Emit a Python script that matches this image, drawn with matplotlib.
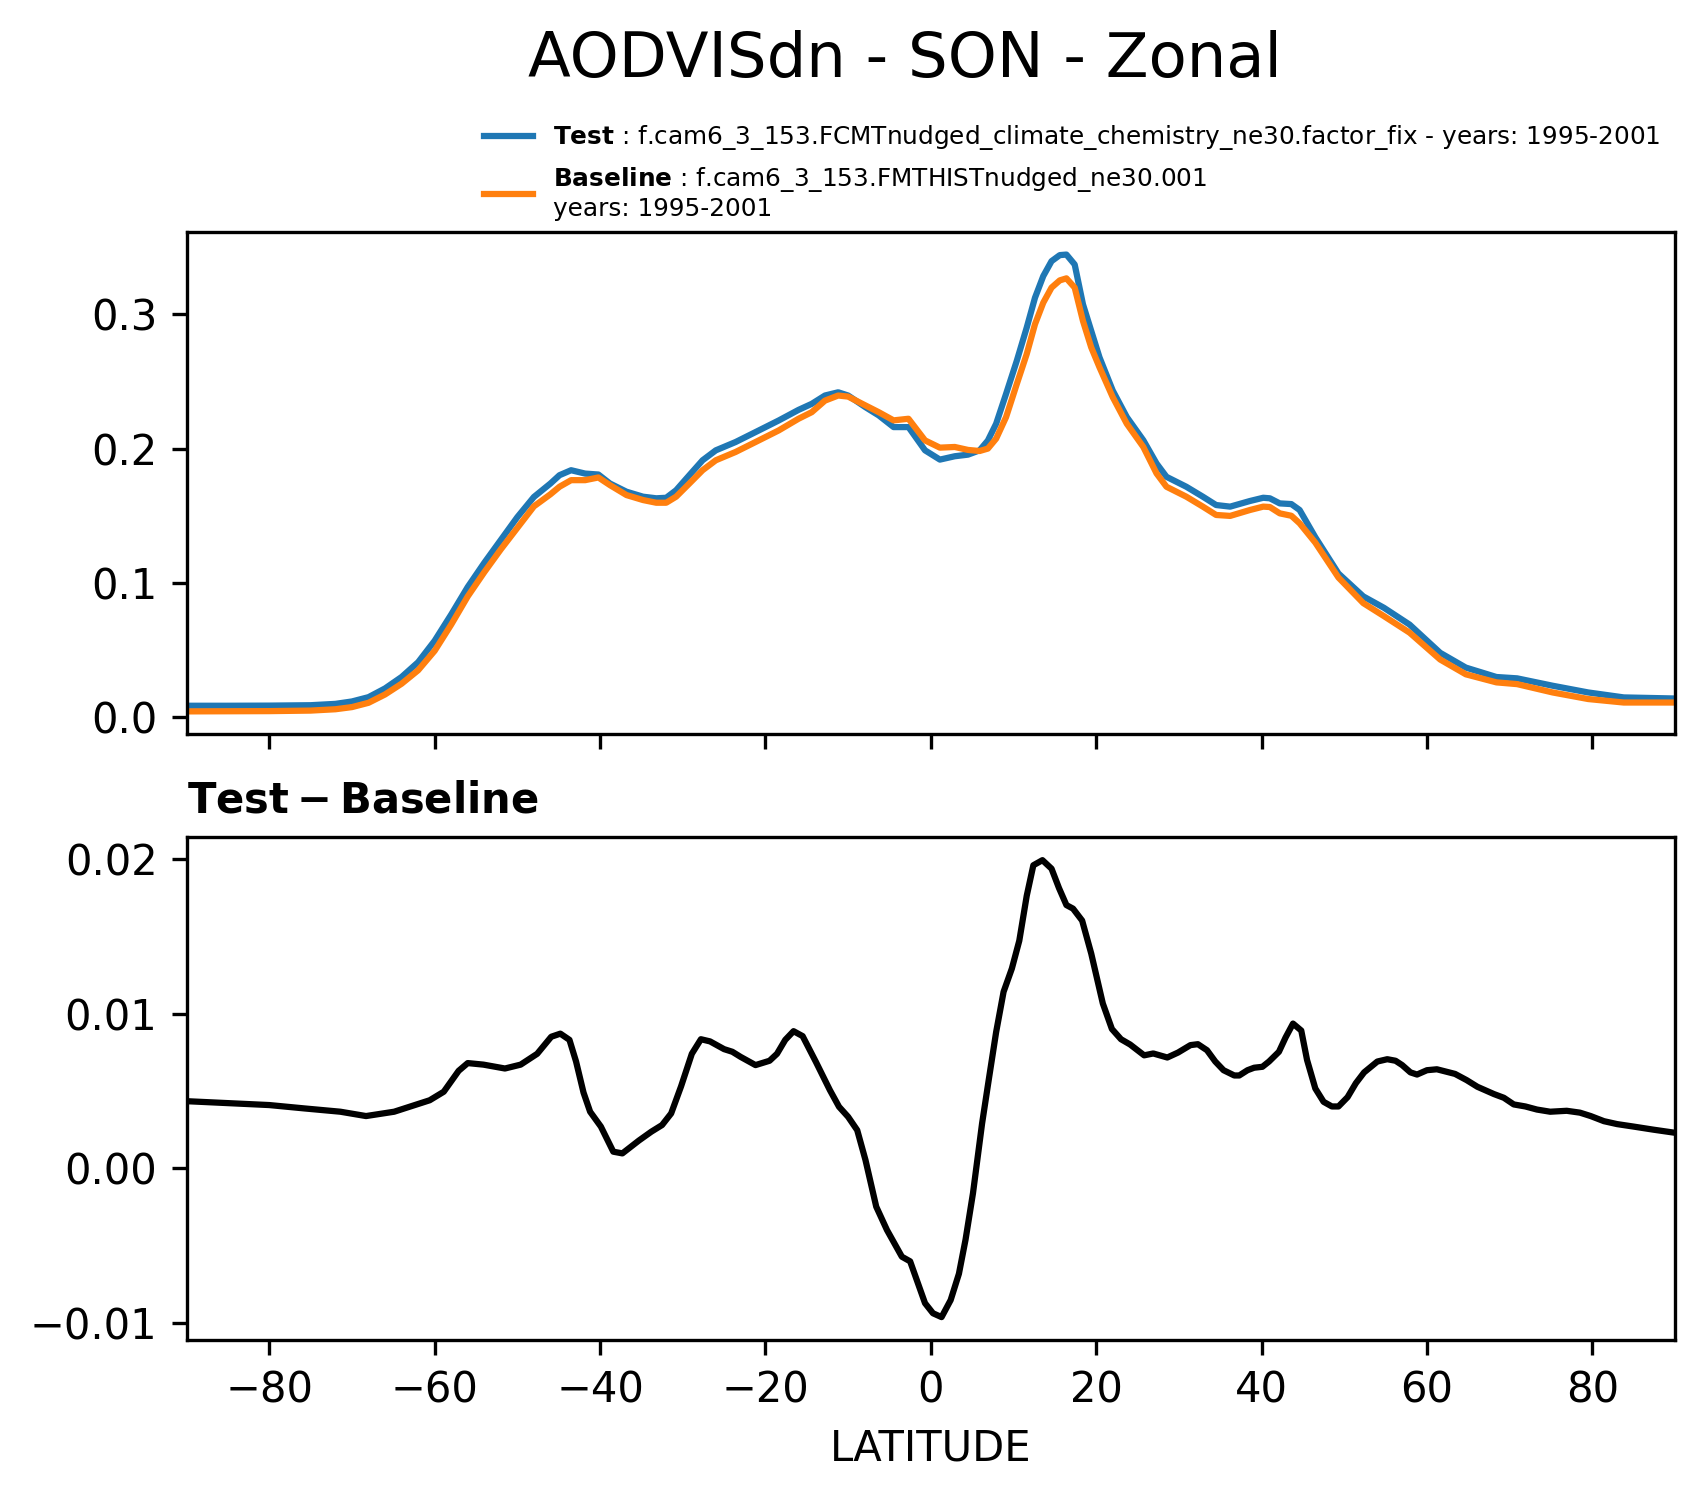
import matplotlib
matplotlib.use("Agg")
import matplotlib.pyplot as plt
import numpy as np

# ---- data ----
lat_top = [-90, -85, -80, -75, -72, -70, -68, -66, -64, -62, -60, -58, -56, -54, -52, -50,
           -48, -46, -44.9, -43.5, -41.8, -40.2, -38.8, -36.8, -34.8, -33.2, -32.0, -30.8,
           -29.2, -27.6, -26.0, -23.6, -20.8, -18.4, -16.0, -14.4, -12.8, -11.2, -10.0,
           -7.9, -6.3, -4.5, -2.7, -0.7, 1.1, 2.9, 4.5, 5.9, 6.9, 7.9, 9.1, 10.4, 11.6,
           12.6, 13.6, 14.6, 15.6, 16.4, 17.4, 18.4, 19.4, 20.4, 22.0, 23.7, 25.7, 27.3,
           28.5, 30.9, 32.9, 34.5, 36.2, 38.6, 40.2, 41.0, 42.2, 43.6, 44.6, 46.5, 49.3,
           52.3, 54.8, 57.9, 61.6, 64.7, 68.4, 70.9, 75.2, 79.5, 83.8, 90]
test = [0.0086, 0.0086, 0.0087, 0.0090, 0.0100, 0.0118, 0.0150, 0.0215, 0.0300, 0.0410,
        0.0570, 0.0765, 0.0970, 0.1150, 0.1320, 0.1490, 0.1640, 0.1740, 0.1802, 0.1839,
        0.1814, 0.1807, 0.1740, 0.1679, 0.1642, 0.1630, 0.1634, 0.1690, 0.1802, 0.1913,
        0.1987, 0.2049, 0.2135, 0.2209, 0.2288, 0.2333, 0.2395, 0.2419, 0.2395, 0.2308,
        0.2247, 0.2160, 0.2160, 0.1987, 0.1918, 0.1943, 0.1955, 0.1987, 0.2060, 0.2185,
        0.2407, 0.2654, 0.2901, 0.3123, 0.3284, 0.3395, 0.3440, 0.3444, 0.3370, 0.3074,
        0.2876, 0.2679, 0.2432, 0.2235, 0.2062, 0.1889, 0.1790, 0.1716, 0.1642, 0.1580,
        0.1568, 0.1610, 0.1634, 0.1630, 0.1592, 0.1587, 0.1543, 0.1340, 0.1070, 0.0900,
        0.0815, 0.0690, 0.0480, 0.0370, 0.0300, 0.0290, 0.0235, 0.0185, 0.0148, 0.0140]
baseline = [0.0044, 0.0045, 0.0046, 0.0050, 0.0060, 0.0076, 0.0108, 0.0170, 0.0250, 0.0350,
            0.0495, 0.0690, 0.0900, 0.1080, 0.1250, 0.1410, 0.1570, 0.1660, 0.1716, 0.1765,
            0.1765, 0.1785, 0.1728, 0.1654, 0.1617, 0.1597, 0.1597, 0.1642, 0.1740, 0.1839,
            0.1913, 0.1975, 0.2061, 0.2135, 0.2222, 0.2271, 0.2357, 0.2395, 0.2387, 0.2321,
            0.2271, 0.2210, 0.2222, 0.2061, 0.2007, 0.2012, 0.1990, 0.1982, 0.2000, 0.2074,
            0.2234, 0.2481, 0.2704, 0.2926, 0.3086, 0.3198, 0.3252, 0.3267, 0.3198, 0.2950,
            0.2753, 0.2605, 0.2383, 0.2185, 0.2012, 0.1815, 0.1716, 0.1642, 0.1568, 0.1506,
            0.1499, 0.1543, 0.1568, 0.1565, 0.1518, 0.1500, 0.1444, 0.1300, 0.1040, 0.0850,
            0.0753, 0.0630, 0.0430, 0.0320, 0.0260, 0.0247, 0.0185, 0.0136, 0.0110, 0.0110]

lat_diff = [-90, -80, -75.7, -71.4, -68.3, -64.9, -60.6, -58.9, -57.1, -56.0, -54.1, -51.5,
            -49.6, -47.6, -45.9, -44.8, -43.7, -42.9, -42.0, -41.2, -39.9, -38.4, -37.3,
            -35.3, -33.8, -32.5, -31.4, -30.2, -28.9, -27.8, -26.7, -25.0, -24.0, -23.0,
            -21.2, -19.5, -18.6, -17.6, -16.6, -15.5, -13.9, -12.2, -11.1, -10.0, -8.9,
            -7.9, -6.6, -5.3, -3.5, -2.5, -0.7, 0.26, 1.3, 2.4, 3.4, 4.2, 5.1, 6.2, 7.0,
            7.9, 8.8, 9.8, 10.7, 11.6, 12.4, 13.5, 14.6, 15.5, 16.4, 17.2, 18.3, 19.4,
            20.8, 21.9, 23.0, 24.1, 25.8, 26.9, 28.6, 29.9, 31.4, 32.3, 33.4, 34.4, 35.4,
            36.7, 37.3, 38.3, 39.1, 40.1, 40.9, 42.1, 42.9, 43.8, 44.8, 45.5, 46.5, 47.5,
            48.5, 49.3, 50.4, 51.4, 52.4, 54.0, 55.2, 56.2, 57.0, 58.0, 58.8, 60.0, 61.2,
            63.4, 64.8, 66.1, 68.1, 69.3, 70.5, 71.9, 73.3, 74.9, 76.9, 78.5, 79.8, 81.4,
            83.0, 85.0, 87.4, 90]
diff = [0.00434, 0.00409, 0.00387, 0.00366, 0.00338, 0.00366, 0.00440, 0.00495, 0.00630,
        0.00680, 0.00670, 0.00645, 0.00670, 0.00740, 0.00850, 0.00870, 0.00830, 0.00690,
        0.00490, 0.00366, 0.00270, 0.00108, 0.00097, 0.00180, 0.00237, 0.00280, 0.00355,
        0.00530, 0.00740, 0.00834, 0.00820, 0.00770, 0.00753, 0.00720, 0.00667, 0.00695,
        0.00740, 0.00830, 0.00886, 0.00854, 0.00688, 0.00505, 0.00398, 0.00333, 0.00247,
        0.00054, -0.00247, -0.00398, -0.00570, -0.00600, -0.00870, -0.00935, -0.00960,
        -0.00850, -0.00680, -0.00460, -0.00160, 0.00290, 0.00570, 0.00880, 0.01140,
        0.01290, 0.01470, 0.01760, 0.01957, 0.01990, 0.01935, 0.01810, 0.01700, 0.01677,
        0.01600, 0.01387, 0.01065, 0.00900, 0.00834, 0.00800, 0.00730, 0.00742, 0.00716,
        0.00748, 0.00796, 0.00802, 0.00763, 0.00690, 0.00634, 0.00600, 0.00600, 0.00634,
        0.00650, 0.00656, 0.00690, 0.00753, 0.00845, 0.00935, 0.00890, 0.00700, 0.00516,
        0.00430, 0.00400, 0.00400, 0.00460, 0.00550, 0.00620, 0.00690, 0.00705, 0.00695,
        0.00667, 0.00620, 0.00606, 0.00634, 0.00640, 0.00610, 0.00570, 0.00527, 0.00480,
        0.00456, 0.00413, 0.00400, 0.00380, 0.00366, 0.00372, 0.00360, 0.00338, 0.00305,
        0.00286, 0.00270, 0.00250, 0.00230]

title = "AODVISdn - SON - Zonal"
test_label = r"$\bf{Test}$ : f.cam6_3_153.FCMTnudged_climate_chemistry_ne30.factor_fix - years: 1995-2001"
base_label = r"$\bf{Baseline}$ : f.cam6_3_153.FMTHISTnudged_ne30.001" + "\nyears: 1995-2001"
diff_title = r"$\bf{Test - Baseline}$"
xticks = [-80, -60, -40, -20, 0, 20, 40, 60, 80]

# ---- figure ----
fig = plt.figure(figsize=(1704 / 300, 1496 / 300), dpi=300)
ax1 = fig.add_axes([0.1095, 0.5092, 0.8735, 0.3359])
ax2 = fig.add_axes([0.1095, 0.1043, 0.8735, 0.3360], sharex=ax1)

ax1.plot(lat_top, test, color="tab:blue", lw=1.5, label=test_label)
ax1.plot(lat_top, baseline, color="tab:orange", lw=1.5, label=base_label)
ax1.set_xlim(-90, 90)
ax1.set_xticks(xticks)
ax1.tick_params(labelbottom=False, labelsize=10)
ax1.legend(loc="lower right", bbox_to_anchor=(1.0054, 0.976), frameon=False,
           fontsize=5.95, handlelength=2.0)

ax2.plot(lat_diff, diff, color="black", lw=1.5)
ax2.set_title(diff_title, loc="left", fontsize=10)
ax2.set_xlabel("LATITUDE", fontsize=10)
ax2.tick_params(labelsize=10)

fig.text(905 / 1704, 1 - 76.7 / 1496, title, ha="center", va="baseline", fontsize=15)

fig.savefig("out.png", dpi=300)
